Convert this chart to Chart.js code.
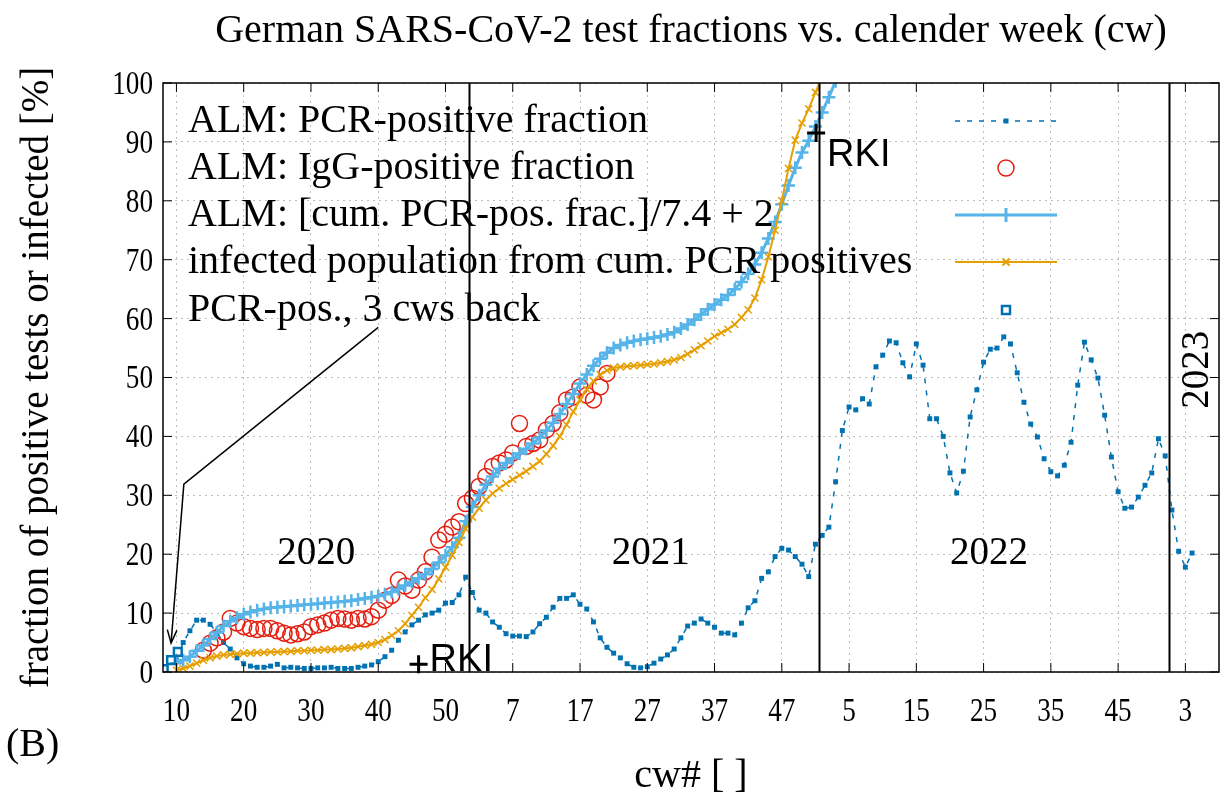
<!DOCTYPE html>
<html lang="en">
<head>
<meta charset="UTF-8">
<title>German SARS-CoV-2 test fractions vs. calender week</title>
<script src="https://cdn.jsdelivr.net/npm/chart.js"></script>
<style>
    body { margin: 0; background: #fff; }
    #wrap { width: 1231px; height: 796px; }
</style>
</head>
<body>
<div id="wrap"><canvas id="chart" width="1231" height="796"></canvas></div>
<script>
// continuous week index: 2020 cw = index, 2021 cw = index-53, 2022 cw = index-105, 2023 cw = index-157
const weeks = [
    10, 11, 12, 13, 14, 15, 16, 17, 18, 19, 20, 21, 22, 23, 24, 25, 26, 27, 28, 29,
    30, 31, 32, 33, 34, 35, 36, 37, 38, 39, 40, 41, 42, 43, 44, 45, 46, 47, 48, 49,
    50, 51, 52, 53, 54, 55, 56, 57, 58, 59, 60, 61, 62, 63, 64, 65, 66, 67, 68, 69,
    70, 71, 72, 73, 74, 75, 76, 77, 78, 79, 80, 81, 82, 83, 84, 85, 86, 87, 88, 89,
    90, 91, 92, 93, 94, 95, 96, 97, 98, 99, 100, 101, 102, 103, 104, 105, 106, 107, 108, 109,
    110, 111, 112, 113, 114, 115, 116, 117, 118, 119, 120, 121, 122, 123, 124, 125, 126, 127, 128, 129,
    130, 131, 132, 133, 134, 135, 136, 137, 138, 139, 140, 141, 142, 143, 144, 145, 146, 147, 148, 149,
    150, 151, 152, 153, 154, 155, 156, 157, 158, 159, 160, 161
];

// ALM: PCR-positive fraction [%], weeks 10..161
const pcrPositive = [
    2.0, 5.0, 7.0, 8.8, 8.8, 8.1, 6.7, 5.0, 3.9, 2.4,
    1.4, 1.0, 0.8, 0.8, 1.0, 1.3, 0.7, 0.8, 0.7, 0.6,
    0.6, 0.7, 0.7, 0.8, 0.6, 0.6, 0.6, 0.8, 1.0, 1.2,
    1.75, 2.6, 3.7, 5.4, 6.8, 8.0, 8.8, 9.7, 10.0, 10.5,
    11.7, 11.8, 13.1, 16.1, 13.5, 10.5, 10.0, 8.5, 7.6, 6.5,
    6.1, 6.1, 6.0, 6.8, 8.2, 9.3, 11.0, 12.5, 12.5, 13.1,
    11.5, 10.7, 8.5, 5.8, 4.2, 3.2, 2.4, 1.4, 0.8, 0.7,
    0.9, 1.5, 2.2, 2.9, 3.9, 5.8, 7.8, 8.3, 9.0, 8.3,
    7.6, 6.6, 6.6, 6.3, 8.3, 10.9, 12.1, 15.9, 17.0, 19.6,
    21.0, 20.7, 19.6, 18.3, 16.2, 21.7, 23.2, 24.6, 32.3, 41.0,
    45.0, 44.5, 46.4, 45.5, 51.8, 53.8, 56.2, 55.9, 52.5, 50.1,
    55.7, 52.1, 43.0, 43.0, 40.0, 33.8, 30.4, 34.1, 43.3, 47.9,
    52.6, 54.8, 55.0, 56.9, 55.7, 50.8, 45.8, 42.1, 39.9, 36.2,
    34.0, 33.3, 35.1, 39.0, 48.7, 56.0, 53.0, 49.9, 43.6, 36.5,
    30.6, 27.8, 28.0, 29.7, 31.7, 33.8, 39.6, 36.7, 27.5, 20.5,
    17.8, 20.2
];

// ALM: IgG-positive fraction [%], weeks 14..74
const iggFirst = 4; // offset into weeks
const iggPositive = [
    3.7, 4.9, 5.8, 6.8, 9.1, 8.3, 7.7, 7.4, 7.2, 7.4,
    7.4, 7.0, 6.6, 6.3, 6.5, 6.8, 7.7, 8.0, 8.3, 8.8,
    9.1, 9.0, 8.8, 9.1, 9.0, 9.4, 10.5, 12.2, 13.0, 15.6,
    14.6, 13.9, 15.6, 17.0, 19.5, 22.4, 23.4, 24.6, 25.5, 28.6,
    29.5, 31.5, 33.2, 34.9, 35.5, 36.0, 37.2, 42.2, 38.3, 38.8,
    39.4, 41.1, 42.2, 44.0, 46.2, 46.7, 48.4, 47.0, 46.2, 48.4,
    50.7
];

// ALM: [cum. PCR-pos. frac.]/7.4 + 2, weeks 10..109
const cumScaled = [
    1.5, 2.0, 2.6, 3.6, 4.5, 5.6, 6.7, 7.8, 8.6, 9.2,
    9.8, 10.2, 10.5, 10.7, 10.9, 11.0, 11.1, 11.2, 11.3, 11.4,
    11.5, 11.6, 11.7, 11.8, 11.9, 12.0, 12.1, 12.3, 12.5, 12.7,
    12.9, 13.2, 13.6, 14.1, 14.7, 15.3, 15.9, 16.6, 17.5, 18.6,
    19.8, 21.2, 22.8, 25.6, 28.0, 30.0, 31.8, 33.2, 34.5, 35.5,
    36.3, 37.1, 37.9, 38.8, 39.8, 41.0, 42.3, 43.8, 45.5, 47.2,
    49.0, 50.5, 52.0, 53.2, 54.2, 55.0, 55.5, 55.9, 56.2, 56.4,
    56.6, 56.8, 57.0, 57.3, 57.7, 58.3, 59.0, 59.8, 60.7, 61.6,
    62.4, 63.2, 64.0, 65.0, 66.2, 67.6, 69.2, 71.2, 73.6, 76.4,
    79.4, 82.6, 85.6, 88.2, 90.2, 92.6, 95.0, 97.6, 100.3, 103.0
];

// infected population from cum. PCR positives, weeks 10..106
const infectedPop = [
    0.3, 0.6, 1.0, 1.5, 2.0, 2.4, 2.7, 2.9, 3.0, 3.1,
    3.2, 3.2, 3.3, 3.3, 3.4, 3.4, 3.5, 3.5, 3.6, 3.6,
    3.7, 3.7, 3.8, 3.8, 3.9, 4.0, 4.1, 4.3, 4.5, 4.7,
    5.0, 5.5, 6.2, 7.0, 8.2, 9.6, 11.0, 12.6, 14.0, 15.8,
    17.8, 19.8, 22.0, 24.3, 26.3, 27.8, 29.2, 30.3, 31.2, 32.0,
    32.7, 33.4, 34.1, 34.9, 35.8, 37.0, 38.4, 40.0, 42.0, 44.2,
    46.2, 48.0, 49.4, 50.5, 51.2, 51.6, 51.8, 51.9, 52.0, 52.1,
    52.2, 52.3, 52.5, 52.7, 53.0, 53.4, 54.0, 54.7, 55.4, 56.2,
    57.0, 57.6, 58.2, 59.0, 60.2, 61.5, 63.5, 66.6, 70.5, 75.0,
    80.0, 85.5, 90.3, 93.2, 95.6, 98.4, 101.0
];

// PCR-pos., 3 cws back
const backWeeks = [8.1, 9.2, 10.2];
const backValues = [0.5, 2.0, 3.4];

// RKI reference points
const rkiWeeks = [46.0, 105.1];
const rkiValues = [1.3, 91.5];

const xTicks = [10, 20, 30, 40, 50, 60, 70, 80, 90, 100, 110, 120, 130, 140, 150, 160];
const yearBreaks = [53.5, 105.5, 157.5];
const yearLabels = ['2020', '2021', '2022', '2023'];
const yearLabelPos = [[30.8, 20], [80.5, 20], [130.8, 20], [161.9, 51.3]];
const arrowPath = [[40.0, 58.5], [11.1, 31.9], [9.2, 4.9]];

const legendLabels = [
    'ALM: PCR-positive fraction',
    'ALM: IgG-positive fraction',
    'ALM: [cum. PCR-pos. frac.]/7.4 + 2',
    'infected population from cum. PCR positives',
    'PCR-pos., 3 cws back'
];

const DARKBLUE = '#0072b2', RED = '#e51e10', LIGHTBLUE = '#56b4e9', ORANGE = '#e69f00';
const SERIF = '"Liberation Serif", "Times New Roman", serif';
const SANS = '"Liberation Sans", Arial, sans-serif';

function weekLabel(v) {
    if (v <= 53) return String(v);
    if (v <= 105) return String(v - 53);
    if (v <= 157) return String(v - 105);
    return String(v - 157);
}

function pts(xs, ys) {
    return ys.map((y, i) => ({ x: xs[i], y: y }));
}

// condensed serif text (the tick numbers in the original are narrow)
function narrowText(ctx, txt, px, py, align) {
    ctx.save();
    ctx.translate(px, py);
    ctx.scale(0.8, 1);
    ctx.textAlign = align;
    ctx.fillText(txt, 0, 0);
    ctx.restore();
}

const gnuplotDecor = {
    id: 'gnuplotDecor',
    afterDatasetsDraw(chart) {
        const { ctx, chartArea: a, scales: { x, y } } = chart;
        ctx.save();
        // year separators
        ctx.strokeStyle = '#000';
        ctx.lineWidth = 2;
        yearBreaks.forEach(w => {
            const px = Math.round(x.getPixelForValue(w)) + 0.5;
            ctx.beginPath(); ctx.moveTo(px, a.top); ctx.lineTo(px, a.bottom); ctx.stroke();
        });
        // frame + inward ticks (mirrored)
        ctx.lineWidth = 1.5;
        ctx.strokeRect(a.left, a.top, a.right - a.left, a.bottom - a.top);
        ctx.lineWidth = 1;
        ctx.beginPath();
        xTicks.forEach(v => {
            const px = x.getPixelForValue(v);
            ctx.moveTo(px, a.bottom); ctx.lineTo(px, a.bottom - 9);
            ctx.moveTo(px, a.top); ctx.lineTo(px, a.top + 9);
        });
        y.ticks.forEach(t => {
            const py = y.getPixelForValue(t.value);
            ctx.moveTo(a.left, py); ctx.lineTo(a.left + 9, py);
            ctx.moveTo(a.right, py); ctx.lineTo(a.right - 9, py);
        });
        ctx.stroke();

        // arrow to the first "3 cws back" points
        const p = arrowPath.map(([wx, wy]) => [x.getPixelForValue(wx), y.getPixelForValue(wy)]);
        ctx.lineWidth = 1.5;
        ctx.beginPath();
        ctx.moveTo(p[0][0], p[0][1]);
        for (let i = 1; i < p.length; i++) ctx.lineTo(p[i][0], p[i][1]);
        ctx.stroke();
        const [ex, ey] = p[p.length - 1], [sx, sy] = p[p.length - 2];
        const ang = Math.atan2(ey - sy, ex - sx);
        ctx.beginPath();
        ctx.moveTo(ex - 14 * Math.cos(ang - 0.35), ey - 14 * Math.sin(ang - 0.35));
        ctx.lineTo(ex, ey);
        ctx.lineTo(ex - 14 * Math.cos(ang + 0.35), ey - 14 * Math.sin(ang + 0.35));
        ctx.stroke();

        // RKI labels
        ctx.fillStyle = '#000';
        ctx.font = '38px ' + SANS;
        ctx.textBaseline = 'alphabetic';
        ctx.textAlign = 'left';
        ctx.fillText('RKI', x.getPixelForValue(rkiWeeks[0]) + 11, a.bottom - 1);
        ctx.fillText('RKI', x.getPixelForValue(rkiWeeks[1]) + 11, y.getPixelForValue(rkiValues[1]) + 33);

        // year labels
        ctx.font = '39px ' + SERIF;
        ctx.textAlign = 'center';
        ctx.textBaseline = 'middle';
        yearLabels.forEach((t, i) => {
            const px = x.getPixelForValue(yearLabelPos[i][0]);
            const py = y.getPixelForValue(yearLabelPos[i][1]);
            if (i === 3) {
                ctx.save(); ctx.translate(px, py); ctx.rotate(-Math.PI / 2);
                ctx.fillText(t, 0, 0); ctx.restore();
            } else {
                ctx.fillText(t, px, py);
            }
        });
        ctx.restore();
    },
    afterDraw(chart) {
        const { ctx, chartArea: a, scales: { x, y } } = chart;
        ctx.save();
        ctx.fillStyle = '#000';
        ctx.textBaseline = 'middle';

        // tick labels, taken from the scales
        ctx.font = '34px ' + SERIF;
        x.ticks.forEach(t => narrowText(ctx, weekLabel(t.value), x.getPixelForValue(t.value), a.bottom + 40, 'center'));
        y.ticks.forEach(t => narrowText(ctx, String(t.value), a.left - 10, y.getPixelForValue(t.value) + 2, 'right'));

        // title and axis titles
        ctx.font = '40px ' + SERIF;
        ctx.textAlign = 'center';
        ctx.fillText('German SARS-CoV-2 test fractions vs. calender week (cw)', (a.left + a.right) / 2, 31);
        ctx.fillText('cw# [ ]', (a.left + a.right) / 2, 776);
        ctx.textAlign = 'left';
        ctx.fillText('(B)', 6, 745);
        ctx.save();
        ctx.font = '39px ' + SERIF;
        ctx.translate(38, (a.top + a.bottom) / 2);
        ctx.rotate(-Math.PI / 2);
        ctx.textAlign = 'center';
        ctx.fillText('fraction of positive tests or infected [%]', 0, 0);
        ctx.restore();

        // gnuplot style key: text left, sample right
        const rowY = [121, 168, 215, 262, 310];
        const x0 = 955, x1 = 1057, xm = 1006;
        ctx.font = '40px ' + SERIF;
        ctx.textAlign = 'left';
        legendLabels.forEach((t, i) => {
            ctx.fillStyle = '#000';
            ctx.fillText(t, 188, rowY[i]);
        });
        // 1: dashed with filled square
        ctx.strokeStyle = DARKBLUE; ctx.fillStyle = DARKBLUE; ctx.lineWidth = 1.5;
        ctx.setLineDash([5, 7]);
        ctx.beginPath(); ctx.moveTo(x0, rowY[0]); ctx.lineTo(x1, rowY[0]); ctx.stroke();
        ctx.setLineDash([]);
        ctx.fillRect(xm - 2.5, rowY[0] - 2.5, 5, 5);
        // 2: open circle
        ctx.strokeStyle = RED; ctx.lineWidth = 1.5;
        ctx.beginPath(); ctx.arc(xm, rowY[1], 8, 0, Math.PI * 2); ctx.stroke();
        // 3: line with +
        ctx.strokeStyle = LIGHTBLUE; ctx.lineWidth = 3;
        ctx.beginPath(); ctx.moveTo(x0, rowY[2]); ctx.lineTo(x1, rowY[2]);
        ctx.moveTo(xm, rowY[2] - 7); ctx.lineTo(xm, rowY[2] + 7); ctx.stroke();
        // 4: line with x
        ctx.strokeStyle = ORANGE; ctx.lineWidth = 2;
        ctx.beginPath(); ctx.moveTo(x0, rowY[3]); ctx.lineTo(x1, rowY[3]);
        ctx.moveTo(xm - 3.5, rowY[3] - 3.5); ctx.lineTo(xm + 3.5, rowY[3] + 3.5);
        ctx.moveTo(xm - 3.5, rowY[3] + 3.5); ctx.lineTo(xm + 3.5, rowY[3] - 3.5);
        ctx.stroke();
        // 5: open square
        ctx.strokeStyle = DARKBLUE; ctx.lineWidth = 2.5;
        ctx.strokeRect(xm - 4, rowY[4] - 4, 8, 8);
        ctx.restore();
    }
};

new Chart(document.getElementById('chart'), {
    type: 'scatter',
    data: {
        datasets: [
            {
                label: legendLabels[0],
                data: pts(weeks, pcrPositive),
                showLine: true,
                borderColor: DARKBLUE,
                backgroundColor: DARKBLUE,
                borderWidth: 1.5,
                borderDash: [5, 7],
                pointStyle: 'rect',
                pointRadius: 3.5,
                pointBorderWidth: 0,
                order: 5
            },
            {
                label: legendLabels[1],
                data: pts(weeks.slice(iggFirst), iggPositive),
                showLine: false,
                borderColor: RED,
                backgroundColor: 'rgba(0,0,0,0)',
                pointStyle: 'circle',
                pointRadius: 8,
                pointBorderWidth: 1.5,
                order: 4
            },
            {
                label: legendLabels[2],
                data: pts(weeks, cumScaled),
                showLine: true,
                borderColor: LIGHTBLUE,
                backgroundColor: LIGHTBLUE,
                borderWidth: 3,
                pointStyle: 'cross',
                pointRadius: 6.5,
                pointBorderWidth: 2.5,
                order: 3
            },
            {
                label: legendLabels[3],
                data: pts(weeks, infectedPop),
                showLine: true,
                borderColor: ORANGE,
                backgroundColor: ORANGE,
                borderWidth: 2,
                pointStyle: 'crossRot',
                pointRadius: 5,
                pointBorderWidth: 1.5,
                order: 2
            },
            {
                label: legendLabels[4],
                data: pts(backWeeks, backValues),
                showLine: false,
                borderColor: DARKBLUE,
                backgroundColor: 'rgba(0,0,0,0)',
                pointStyle: 'rect',
                pointRadius: 5.5,
                pointBorderWidth: 2.5,
                order: 1
            },
            {
                label: 'RKI',
                data: pts(rkiWeeks, rkiValues),
                showLine: false,
                borderColor: '#000',
                backgroundColor: '#000',
                pointStyle: 'cross',
                pointRadius: 9,
                pointBorderWidth: 3,
                clip: false,
                order: 0
            }
        ]
    },
    options: {
        responsive: false,
        animation: false,
        clip: 0,
        layout: { padding: { top: 83, right: 3, bottom: 0, left: 0 } },
        plugins: { legend: { display: false }, tooltip: { enabled: false } },
        elements: { line: { tension: 0 } },
        scales: {
            x: {
                type: 'linear',
                min: 8,
                max: 165,
                afterBuildTicks: s => { s.ticks = xTicks.map(v => ({ value: v })); },
                afterFit: s => { s.height = 124; s.paddingLeft = 0; s.paddingRight = 0; },
                grid: { color: '#bdbdbd', lineWidth: 1, drawTicks: false },
                border: { display: false, dash: [2, 4] },
                ticks: { display: false, autoSkip: false, maxRotation: 0 }
            },
            y: {
                min: 0,
                max: 100,
                afterFit: s => { s.width = 163; s.paddingTop = 0; s.paddingBottom = 0; },
                grid: { color: '#bdbdbd', lineWidth: 1, drawTicks: false },
                border: { display: false, dash: [2, 4] },
                ticks: { display: false, stepSize: 10 }
            }
        }
    },
    plugins: [gnuplotDecor]
});
</script>
</body>
</html>
